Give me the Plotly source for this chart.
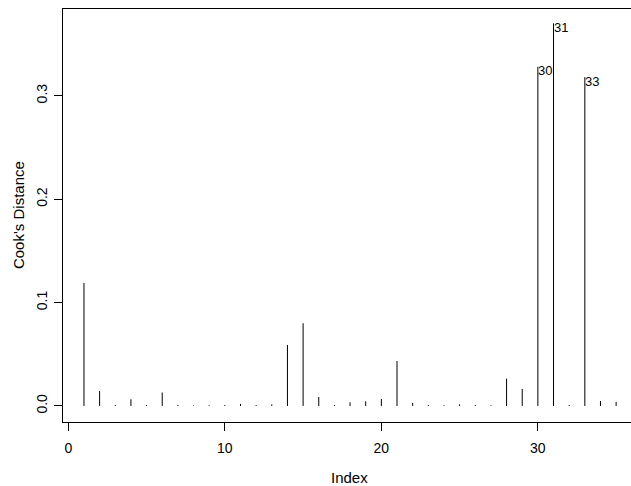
import plotly.graph_objects as go

# Data
index = list(range(1, 36))
cooks_distance = [
    0.119, 0.0145, 0.001, 0.0065, 0.001, 0.013, 0.001, 0.0005, 0.0007, 0.001,
    0.002, 0.001, 0.0015, 0.059, 0.080, 0.0087, 0.001, 0.0035, 0.0045, 0.0068,
    0.0435, 0.003, 0.001, 0.0007, 0.0015, 0.001, 0.0007, 0.0264, 0.0164, 0.328,
    0.370, 0.001, 0.318, 0.0048, 0.004,
]
x_ticks = [0, 10, 20, 30]
y_ticks = [0.0, 0.1, 0.2, 0.3]
y_tick_labels = ["0.0", "0.1", "0.2", "0.3"]
n_labeled = 3

FONT = "Liberation Sans, Arial, Helvetica, sans-serif"

# build vertical stems (type="h")
xs, ys = [], []
for i, v in zip(index, cooks_distance):
    xs += [i, i, None]
    ys += [0, v, None]

fig = go.Figure()
fig.add_trace(go.Scatter(x=xs, y=ys, mode="lines",
                         line=dict(color="black", width=1),
                         hoverinfo="skip", showlegend=False))

# label the largest values
top = sorted(range(len(cooks_distance)), key=lambda k: cooks_distance[k], reverse=True)[:n_labeled]
for k in top:
    fig.add_annotation(x=index[k], y=cooks_distance[k], text=str(index[k]),
                       xref="x", yref="y", showarrow=False,
                       xanchor="left", yanchor="middle", xshift=-2, yshift=-4,
                       font=dict(family=FONT, size=13, color="black"))

fig.add_annotation(text="Index", xref="paper", yref="paper", x=0.505, y=0,
                   yanchor="middle", yshift=-55, showarrow=False,
                   font=dict(family=FONT, size=15, color="black"))
fig.add_annotation(text="Cook's Distance", xref="paper", yref="paper", x=0, y=0.501,
                   xanchor="center", xshift=-45, textangle=-90, showarrow=False,
                   font=dict(family=FONT, size=15, color="black"))

fig.update_layout(
    width=631, height=486,
    margin=dict(l=63, r=0, t=9, b=64),
    paper_bgcolor="white", plot_bgcolor="white",
    font=dict(family=FONT, size=14, color="black"),
    showlegend=False,
    xaxis=dict(range=[-0.34, 35.95], tickvals=x_ticks, ticks="outside", ticklen=8,
               tickcolor="black", showline=True, linecolor="black", linewidth=1,
               mirror=True, showgrid=False, zeroline=False,
               ticklabelstandoff=5, tickfont=dict(size=14, color="black")),
    yaxis=dict(range=[-0.0155, 0.3839], tickvals=y_ticks, ticktext=y_tick_labels,
               ticks="outside", ticklen=8, tickcolor="black", tickangle=-90,
               showline=True, linecolor="black", linewidth=1, mirror=False,
               showgrid=False, zeroline=False, ticklabelstandoff=1,
               tickfont=dict(size=14, color="black")),
)

fig.write_html("out.html",
               config={"displayModeBar": False},
               post_script="document.body.style.margin='0';document.body.style.overflow='hidden';")
